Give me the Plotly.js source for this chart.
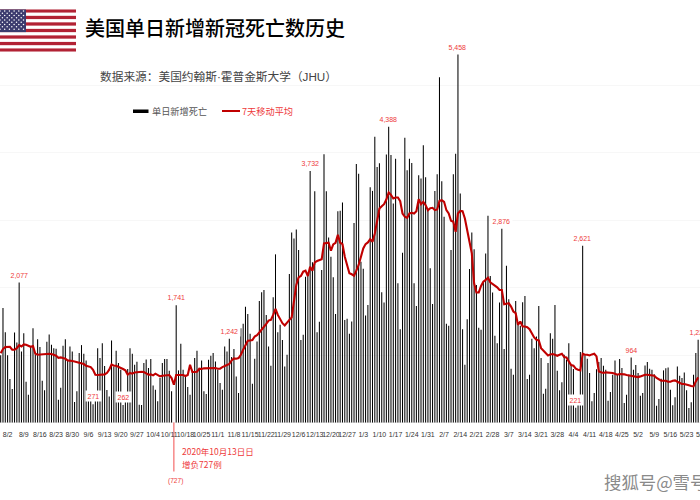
<!DOCTYPE html>
<html>
<head>
<meta charset="utf-8">
<script src="https://cdn.plot.ly/plotly-3.0.1.min.js"></script>
<style>html,body{margin:0;padding:0;background:#fff;overflow:hidden;width:700px;height:500px}#c{width:740px;height:500px}</style>
</head>
<body>
<div id="c"></div>
<script>
var dates = ["7/30","7/31","8/1","8/2","8/3","8/4","8/5","8/6","8/7","8/8","8/9","8/10","8/11","8/12","8/13","8/14","8/15","8/16","8/17","8/18","8/19","8/20","8/21","8/22","8/23","8/24","8/25","8/26","8/27","8/28","8/29","8/30","8/31",
"9/1","9/2","9/3","9/4","9/5","9/6","9/7","9/8","9/9","9/10","9/11","9/12","9/13","9/14","9/15","9/16","9/17","9/18","9/19","9/20","9/21","9/22","9/23","9/24","9/25","9/26","9/27","9/28","9/29","9/30",
"10/1","10/2","10/3","10/4","10/5","10/6","10/7","10/8","10/9","10/10","10/11","10/12","10/13","10/14","10/15","10/16","10/17","10/18","10/19","10/20","10/21","10/22","10/23","10/24","10/25","10/26","10/27","10/28","10/29","10/30","10/31",
"11/1","11/2","11/3","11/4","11/5","11/6","11/7","11/8","11/9","11/10","11/11","11/12","11/13","11/14","11/15","11/16","11/17","11/18","11/19","11/20","11/21","11/22","11/23","11/24","11/25","11/26","11/27","11/28","11/29","11/30",
"12/1","12/2","12/3","12/4","12/5","12/6","12/7","12/8","12/9","12/10","12/11","12/12","12/13","12/14","12/15","12/16","12/17","12/18","12/19","12/20","12/21","12/22","12/23","12/24","12/25","12/26","12/27","12/28","12/29","12/30","12/31",
"1/1","1/2","1/3","1/4","1/5","1/6","1/7","1/8","1/9","1/10","1/11","1/12","1/13","1/14","1/15","1/16","1/17","1/18","1/19","1/20","1/21","1/22","1/23","1/24","1/25","1/26","1/27","1/28","1/29","1/30","1/31",
"2/1","2/2","2/3","2/4","2/5","2/6","2/7","2/8","2/9","2/10","2/11","2/12","2/13","2/14","2/15","2/16","2/17","2/18","2/19","2/20","2/21","2/22","2/23","2/24","2/25","2/26","2/27","2/28",
"3/1","3/2","3/3","3/4","3/5","3/6","3/7","3/8","3/9","3/10","3/11","3/12","3/13","3/14","3/15","3/16","3/17","3/18","3/19","3/20","3/21","3/22","3/23","3/24","3/25","3/26","3/27","3/28","3/29","3/30","3/31",
"4/1","4/2","4/3","4/4","4/5","4/6","4/7","4/8","4/9","4/10","4/11","4/12","4/13","4/14","4/15","4/16","4/17","4/18","4/19","4/20","4/21","4/22","4/23","4/24","4/25","4/26","4/27","4/28","4/29","4/30",
"5/1","5/2","5/3","5/4","5/5","5/6","5/7","5/8","5/9","5/10","5/11","5/12","5/13","5/14","5/15","5/16","5/17","5/18","5/19","5/20","5/21","5/22","5/23","5/24","5/25","5/26","5/27","5/28","5/29","5/30"];

var tickLabels = ["8/2","8/9","8/16","8/23","8/30","9/6","9/13","9/20","9/27","10/4","10/11","10/18","10/25","11/1","11/8","11/15","11/22","11/29","12/6","12/13","12/20","12/27","1/3","1/10","1/17","1/24","1/31","2/7","2/14","2/21","2/28","3/7","3/14","3/21","3/28","4/4","4/11","4/18","4/25","5/2","5/9","5/16","5/23","5/30"];

var dailyDeaths = [1000,1700,1341,1000,646,498,1336,1188,2077,1055,
1326,606,414,1120,1400,1010,1237,1119,621,478,
1198,1306,1154,1104,1094,340,518,1139,1237,922,
1129,1055,306,463,1030,1149,1021,922,320,320,
271,320,1104,956,1178,838,483,385,1218,828,
1065,882,784,262,320,794,1104,1020,858,902,
266,261,882,937,808,942,550,488,316,660,
882,942,942,770,463,-727,1741,774,1168,784,
685,527,414,784,956,1065,784,922,463,424,
932,991,1030,907,784,587,488,1129,1055,1242,
971,1090,685,439,1400,1464,1716,1612,1316,577,
947,1203,1804,1933,1967,1597,1129,843,1859,2495,
1341,1449,1225,833,1006,2204,2820,2731,2864,2559,
1225,1301,2164,2213,3732,2376,3431,1341,1494,2263,
3978,3431,2746,2460,2154,1612,3135,3140,3264,1523,
1538,1316,1499,2958,3835,3692,2386,2283,1587,1745,
3490,3436,4240,3791,3845,1933,1780,3974,4388,3969,
3250,3914,2066,1385,2519,4225,3742,3914,3850,2066,
1730,3668,3619,4112,3638,3150,2288,1760,3436,3683,
5122,3579,3052,1464,1435,2559,3683,3988,5458,3397,
1385,858,1533,2278,2820,2569,2041,1405,1375,2090,
2509,3066,2174,1928,1287,1178,1780,2876,1090,2327,
1829,799,710,1804,1449,1435,1785,1878,646,710,
1242,1104,1277,1730,956,429,503,882,1326,1242,
1745,769,478,597,1006,932,1178,858,794,221,
300,1045,2621,1000,947,735,316,439,790,900,
956,843,784,325,454,710,922,710,942,809,
291,414,710,964,784,853,735,399,439,848,
897,799,784,715,251,350,650,774,804,818,
488,256,375,833,695,660,744,478,217,300,
710,1030,1228];

var movingAvg7 = [1030,1090,1119,1124,1124,1080,1080,1104,1149,1129,
1159,1154,1134,1124,1134,1021,1006,1011,1011,1016,
1021,1021,1016,1006,991,961,966,956,947,922,
922,912,907,897,882,878,868,843,838,823,
784,710,705,705,715,715,735,784,863,843,
843,828,818,794,774,710,735,725,744,749,
749,754,749,725,710,715,700,725,705,685,
695,695,695,705,661,562,705,705,715,705,
690,705,858,749,749,754,799,794,804,804,
804,813,813,809,799,799,823,843,853,868,
922,951,947,956,1006,1080,1139,1213,1218,1223,
1277,1297,1336,1375,1425,1464,1513,1523,1597,1686,
1597,1533,1474,1440,1474,1523,1558,1770,2041,2154,
2174,2238,2253,2174,2312,2253,2376,2396,2411,2421,
2657,2657,2667,2549,2642,2667,2785,2667,2647,2460,
2322,2214,2199,2179,2253,2337,2460,2583,2647,2672,
2721,2682,2805,3002,3175,3209,3239,3308,3412,3377,
3323,3338,3338,3283,3101,3052,3037,3101,3111,3101,
3135,3313,3239,3274,3224,3150,3180,3185,3150,3160,
3288,3298,3274,3150,3101,2993,2978,2830,3101,3140,
3135,3027,2879,2682,2509,2066,1928,1928,2026,2090,
2115,2149,2080,2056,2026,2006,1967,1967,1755,1760,
1770,1721,1647,1622,1449,1499,1425,1425,1415,1385,
1311,1262,1228,1218,1104,1065,1021,996,1011,1016,
1006,991,1006,1021,971,966,907,853,843,798,
784,774,1021,1006,1006,996,1011,1021,981,759,
745,735,745,745,740,735,725,710,720,720,
715,705,700,700,695,685,675,685,700,710,
710,705,710,695,661,646,621,621,621,606,
606,621,626,606,587,572,572,567,552,542,
537,611,670];

var barLabels = [2077,1741,1242,3732,4388,5458,2876,2621,964,1228,271,262,221];
var yGrid = [-1000,0,1000,2000,3000,4000,5000,6000];

var W = 740, H = 500, TOP = 18, BOTTOM = 490;
function px(x){ return x / W; }
function py(y){ return 1 - (y - TOP) / (BOTTOM - TOP); }
var RED = '#ee3a3a';
var CJK = '"Liberation Sans","Noto Sans CJK SC",sans-serif';
var HEI = '"Noto Sans CJK SC","Liberation Sans",sans-serif';

var stars = '';
for (var r = 0; r < 9; r++) {
  var n = r % 2 ? 5 : 6;
  for (var c = 0; c < n; c++) {
    stars += '<circle cx="' + ((r % 2 ? 2.4 : 0) + c * 4.7) + '" cy="' + (1.6 + r * 2.28) + '" r="0.75" fill="#fff"/>';
  }
}
var stripes = '';
for (var s = 0; s < 7; s++) {
  stripes += '<rect x="0" y="' + (s * 2 * 42.4 / 13) + '" width="76" height="' + (42.4 / 13) + '" fill="#b22234"/>';
}
var flag = '<svg xmlns="http://www.w3.org/2000/svg" width="76" height="42.4" viewBox="0 0 76 42.4"><rect width="76" height="42.4" fill="#fff"/>' +
  stripes + '<rect width="26" height="22.8" fill="#3c3b6e"/>' + stars + '</svg>';

var annos = barLabels.map(function (v) {
  return {
    x: dates[dailyDeaths.indexOf(v)], y: v, xref: 'x', yref: 'y',
    text: v.toLocaleString('en-US'), showarrow: false, yanchor: 'bottom', yshift: 2,
    font: {family: CJK, size: 7, color: RED}, bgcolor: '#fff', borderpad: 1.5
  };
});
function note(t, x, y, size, color, family, anchor) {
  annos.push({text: t, x: px(x), y: py(y), xref: 'paper', yref: 'paper', xanchor: anchor || 'left', yanchor: 'middle',
    showarrow: false, borderpad: 0, font: {family: family || HEI, size: size, color: color}});
}
note('数据来源：美国约翰斯·霍普金斯大学（JHU）', 99, 76, 11.7, '#444', CJK);
note('单日新增死亡', 151, 111, 9.2, '#555');
note('7天移动平均', 241, 111, 9.2, RED);
note('2020年10月13日日', 181, 451, 8.5, RED);
note('增负727例', 181, 464, 8.5, RED);
note('(727)', 175, 481, 6.6, RED, CJK, 'center');
note('搜狐号@雪号', 603, 481, 17.4, '#8a8a8a');

var layout = {
  width: W, height: H,
  margin: {l: 0, r: 0, t: TOP, b: H - BOTTOM, pad: 0},
  paper_bgcolor: '#fff', plot_bgcolor: '#fff',
  showlegend: false, barmode: 'overlay', bargap: 0.55,
  title: {text: '美国单日新增新冠死亡数历史', x: 85 / W, xref: 'paper', xanchor: 'left', y: 1 - 29 / H, yref: 'container', yanchor: 'middle',
    font: {family: HEI, size: 20, color: '#000', weight: 500}},
  xaxis: {
    type: 'category', categoryorder: 'array', categoryarray: dates,
    range: [-0.29, -0.29 + W / 2.3095],
    tickmode: 'array', tickvals: tickLabels, ticktext: tickLabels, tickangle: 0,
    tickfont: {family: CJK, size: 7, color: '#333'}, ticks: 'outside', ticklen: 5, tickwidth: 0, tickcolor: 'rgba(0,0,0,0)',
    showgrid: false, zeroline: false, showline: false,
    anchor: 'free', position: (BOTTOM - 422.6) / (BOTTOM - TOP)
  },
  yaxis: {
    range: [-1000, 6000], tickmode: 'array', tickvals: yGrid, showticklabels: false, ticks: '',
    showgrid: true, gridcolor: '#f7f7f7', gridwidth: 1, zeroline: true, zerolinecolor: '#f0f0f0', zerolinewidth: 1, showline: false
  },
  shapes: [
    {type: 'rect', xref: 'paper', yref: 'paper', x0: px(133), x1: px(148.5), y0: py(113), y1: py(109.5), fillcolor: '#000', line: {width: 0}},
    {type: 'line', xref: 'paper', yref: 'paper', x0: px(222), x1: px(240), y0: py(111), y1: py(111), line: {color: '#c00000', width: 2}}
  ],
  images: [{
    source: 'data:image/svg+xml;charset=utf-8,' + encodeURIComponent(flag),
    xref: 'paper', yref: 'paper', x: 0, y: py(9.3), sizex: 76 / W, sizey: 42.4 / (BOTTOM - TOP),
    xanchor: 'left', yanchor: 'top', sizing: 'stretch', layer: 'above'
  }],
  annotations: annos
};

var traces = [
  {type: 'bar', name: '单日新增死亡', x: dates.slice(0, dailyDeaths.length), y: dailyDeaths,
    marker: {color: dailyDeaths.map(function (v) { return v < 0 ? '#f25555' : '#000'; }), line: {width: 0}}, hoverinfo: 'skip'},
  {type: 'scatter', mode: 'lines', name: '7天移动平均', x: dates.slice(0, movingAvg7.length), y: movingAvg7,
    line: {color: '#c00000', width: 2.1, shape: 'linear'}, hoverinfo: 'skip'}
];
Plotly.newPlot('c', traces, layout, {staticPlot: true, displayModeBar: false});
</script>
</body>
</html>
